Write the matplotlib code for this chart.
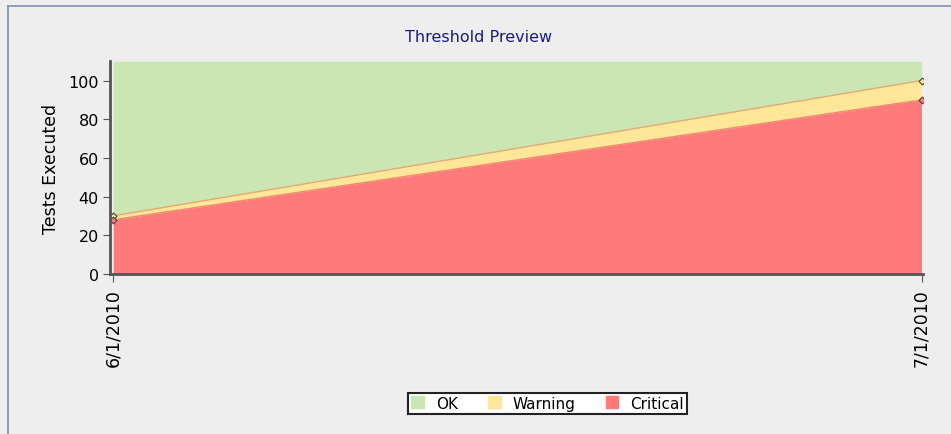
import matplotlib.pyplot as plt
from matplotlib.lines import Line2D
from matplotlib.patches import Patch

# data
dates = ['6/1/2010', '7/1/2010']
critical = [28, 90]
warning = [30, 100]
ok_top = 110

fig = plt.figure(figsize=(9.51, 4.35), dpi=100, facecolor='#eeeeee')
ax = fig.add_axes([0.1157, 0.368, 0.855, 0.489])
ax.set_facecolor('#eeeeee')

x = list(range(len(dates)))
ax.fill_between(x, warning, [ok_top] * len(x), color='#c9e6b3', lw=0)
ax.fill_between(x, critical, warning, color='#ffe699', lw=0)
ax.fill_between(x, 0, critical, color='#ff7b7b', lw=0)
ax.plot(x, warning, color='#e8a870', lw=1)
ax.plot(x, critical, color='#f08a6a', lw=1)
ax.plot(x, warning, ls='none', marker='D', ms=3.5, mfc='#ffe699', mec='#444444', mew=0.8)
ax.plot(x, critical, ls='none', marker='D', ms=3.5, mfc='#ff7b7b', mec='#444444', mew=0.8)

ax.set_xlim(-0.004, 1.002)
ax.set_ylim(0, ok_top)
ax.set_yticks([0, 20, 40, 60, 80, 100])
ax.set_xticks(x)
ax.set_xticklabels(dates, rotation=90, fontsize=12.5)
ax.tick_params(axis='y', labelsize=11.5, length=5, color='#555555', pad=3)
ax.tick_params(axis='x', length=6, color='#555555', pad=4)
for s in ['top', 'right']:
    ax.spines[s].set_visible(False)
for s in ['left', 'bottom']:
    ax.spines[s].set_color('#555555')
    ax.spines[s].set_linewidth(2)
ax.set_ylabel('Tests Executed', fontsize=12.5, labelpad=6)

fig.text(0.503, 0.913, 'Threshold Preview', ha='center', va='center',
         fontsize=11.5, color='#1a1a80', family='Liberation Sans Narrow')

handles = [Patch(color='#c9e6b3', label='OK'),
           Patch(color='#ffe699', label='Warning'),
           Patch(color='#ff7b7b', label='Critical')]
leg = fig.legend(handles=handles, loc='center', bbox_to_anchor=(0.576, 0.071),
                 ncol=3, fontsize=11, frameon=True, fancybox=False,
                 handlelength=0.8, handleheight=0.8, handletextpad=0.8,
                 columnspacing=2.0, borderpad=0.2)
leg.get_frame().set_edgecolor('#222222')
leg.get_frame().set_linewidth(1.5)
leg.get_frame().set_facecolor('white')
leg.get_frame().set_alpha(1)

# outer border of the panel (left and top)
fig.add_artist(Line2D([0.008, 0.008], [0, 0.985], color='#8090b0', lw=1.2))
fig.add_artist(Line2D([0.008, 1], [0.985, 0.985], color='#8090b0', lw=1.2))

fig.savefig('out.png', dpi=100, facecolor=fig.get_facecolor())
